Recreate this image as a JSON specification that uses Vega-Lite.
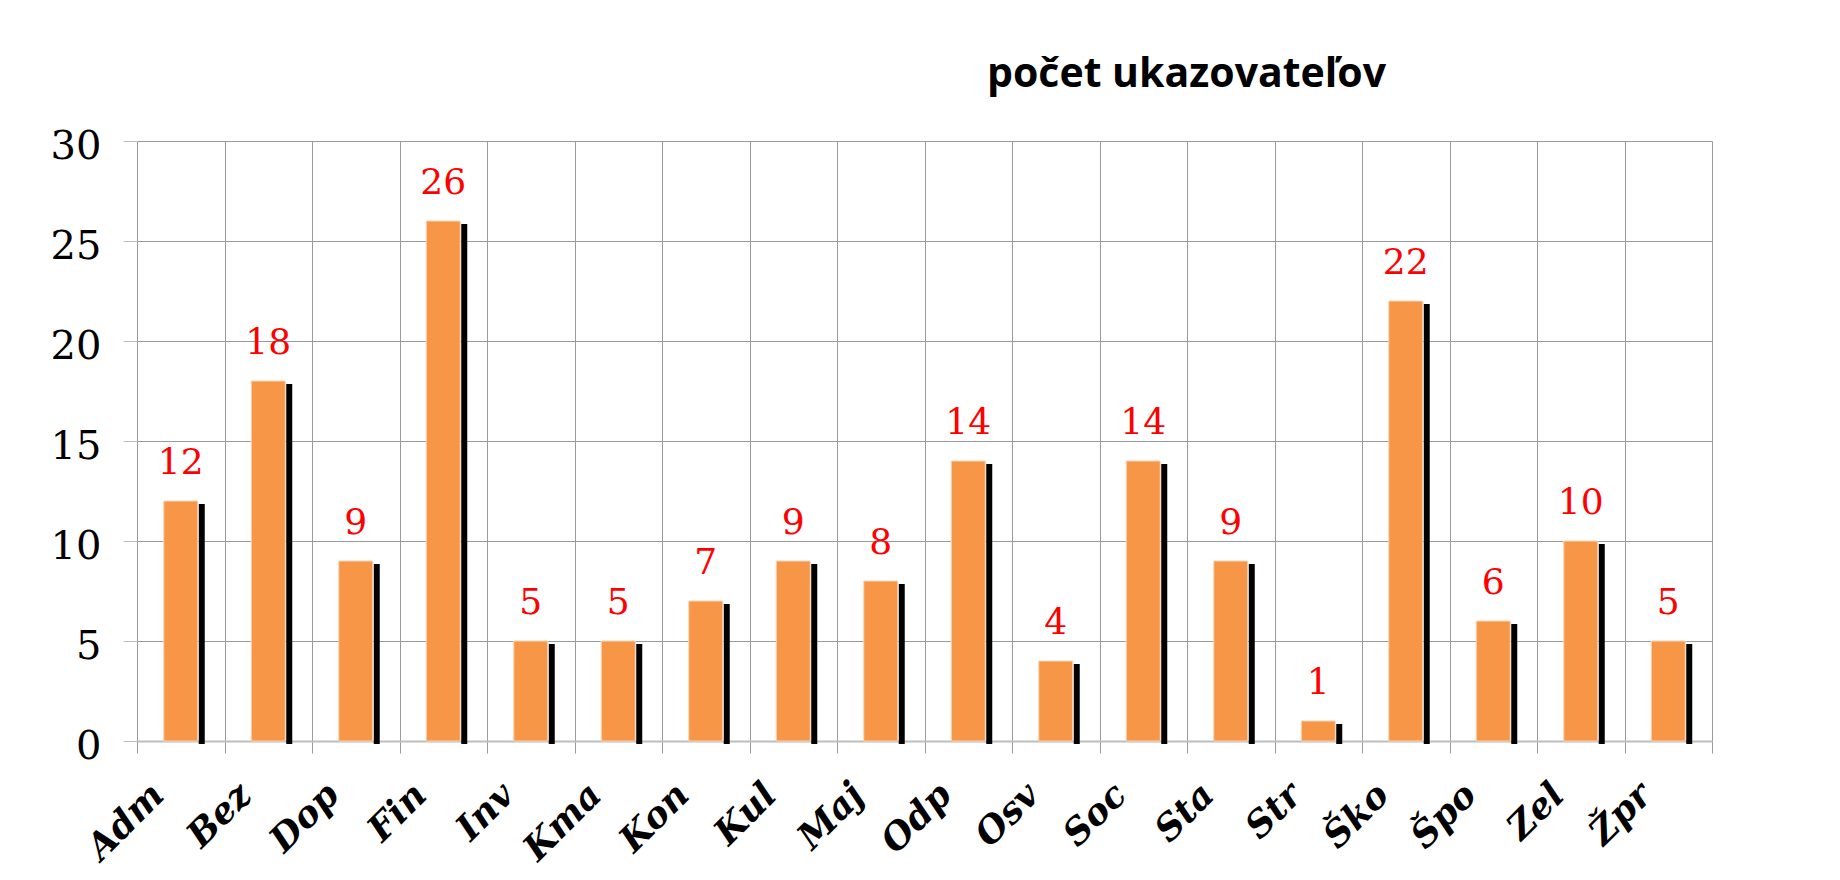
{
  "$schema": "https://vega.github.io/schema/vega-lite/v6.json",
  "width": 1575,
  "height": 600,
  "autosize": {"type": "none"},
  "padding": {"left": 137, "top": 141, "right": 128, "bottom": 139},
  "background": "white",
  "title": {
    "text": "počet ukazovateľov",
    "font": "Open Sans",
    "fontWeight": "bold",
    "fontSize": 41,
    "color": "black",
    "anchor": "middle",
    "frame": "group",
    "dx": 262,
    "offset": 30
  },
  "config": {"view": {"stroke": null}},
  "data": {
    "values": [
      {"k": "Adm", "v": 12},
      {"k": "Bez", "v": 18},
      {"k": "Dop", "v": 9},
      {"k": "Fin", "v": 26},
      {"k": "Inv", "v": 5},
      {"k": "Kma", "v": 5},
      {"k": "Kon", "v": 7},
      {"k": "Kul", "v": 9},
      {"k": "Maj", "v": 8},
      {"k": "Odp", "v": 14},
      {"k": "Osv", "v": 4},
      {"k": "Soc", "v": 14},
      {"k": "Sta", "v": 9},
      {"k": "Str", "v": 1},
      {"k": "Ško", "v": 22},
      {"k": "Špo", "v": 6},
      {"k": "Zel", "v": 10},
      {"k": "Žpr", "v": 5}
    ]
  },
  "encoding": {
    "x": {
      "field": "k",
      "type": "nominal",
      "sort": null,
      "scale": {"paddingInner": 0, "paddingOuter": 0},
      "axis": {
        "title": null,
        "tickBand": "extent",
        "grid": true,
        "gridColor": "#9a9a9a",
        "gridWidth": 1,
        "ticks": true,
        "tickSize": 12,
        "tickColor": "#9a9a9a",
        "domainColor": "#bdbdbd",
        "domainWidth": 2,
        "labelAngle": -45,
        "labelAlign": "right",
        "labelBaseline": "top",
        "labelFont": "DejaVu Serif",
        "labelFontWeight": "bold",
        "labelFontStyle": "italic",
        "labelFontSize": 36,
        "labelColor": "black",
        "labelPadding": 24,
        "labelOffset": -35
      }
    }
  },
  "layer": [
    {
      "mark": {"type": "bar", "color": "black", "width": 6, "xOffset": 21, "yOffset": 3},
      "encoding": {
        "y": {
          "field": "v",
          "type": "quantitative",
          "scale": {"domain": [0, 30]},
          "axis": {
            "title": null,
            "values": [0, 5, 10, 15, 20, 25, 30],
            "grid": true,
            "gridColor": "#9a9a9a",
            "domain": false,
            "tickSize": 14,
            "tickColor": "#bdbdbd",
            "labelFont": "DejaVu Serif",
            "labelFontSize": 40,
            "labelColor": "black",
            "labelPadding": 22,
            "labelOffset": 5
          }
        }
      }
    },
    {
      "mark": {"type": "bar", "color": "#F79646", "width": 34, "stroke": "#FBD5B5", "strokeWidth": 1},
      "encoding": {"y": {"field": "v", "type": "quantitative"}}
    },
    {
      "mark": {"type": "text", "color": "#FF0000", "font": "DejaVu Serif", "fontSize": 36, "baseline": "alphabetic", "dy": -27},
      "encoding": {
        "y": {"field": "v", "type": "quantitative"},
        "text": {"field": "v", "type": "quantitative"}
      }
    }
  ]
}
